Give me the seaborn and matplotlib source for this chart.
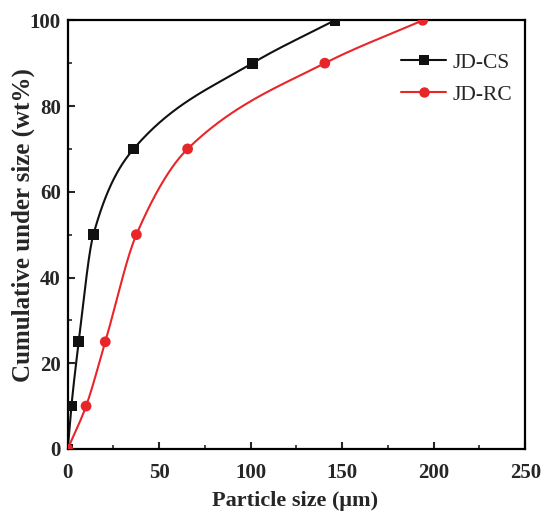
"""Cumulative particle size distribution for JD-CS and JD-RC."""

import numpy as np
import matplotlib
matplotlib.use("Agg")
import matplotlib.pyplot as plt
from matplotlib.lines import Line2D
from matplotlib.ticker import MultipleLocator
import seaborn as sns

# values
cs_size = [0, 2, 6, 14, 36, 101, 146]
cs_cum = [0, 10, 25, 50, 70, 90, 100]
rc_size = [0, 10, 20.5, 37.5, 65.5, 140.5, 194]
rc_cum = [0, 10, 25, 50, 70, 90, 100]

series_names = ["JD-CS", "JD-RC"]
series_colors = ["#111111", "#e8262a"]
series_markers = ["s", "o"]


def smooth_curve(x, y, n=60):
    """Monotone cubic (PCHIP) line through the measured points, drawing only."""
    x = np.asarray(x, float)
    y = np.asarray(y, float)
    h = np.diff(x)
    d = np.diff(y) / h
    m = np.zeros_like(x)
    for k in range(1, len(x) - 1):
        if d[k - 1] * d[k] > 0:
            w1 = 2 * h[k] + h[k - 1]
            w2 = h[k] + 2 * h[k - 1]
            m[k] = (w1 + w2) / (w1 / d[k - 1] + w2 / d[k])
    m[0] = d[0]
    m[-1] = d[-1]
    xs, ys = [], []
    for k in range(len(x) - 1):
        t = np.linspace(0, 1, n)
        h00 = 2 * t**3 - 3 * t**2 + 1
        h10 = t**3 - 2 * t**2 + t
        h01 = -2 * t**3 + 3 * t**2
        h11 = t**3 - t**2
        xs.append(x[k] + t * h[k])
        ys.append(h00 * y[k] + h10 * h[k] * m[k] + h01 * y[k + 1] + h11 * h[k] * m[k + 1])
    return np.concatenate(xs), np.concatenate(ys)


sns.set_theme(style="ticks")
plt.rcParams["font.family"] = ["Liberation Serif", "DejaVu Serif"]

fig = plt.figure(figsize=(5.42, 5.14), dpi=100)
ax = fig.add_axes([0.125, 0.1265, 0.844, 0.834])

data = [(cs_size, cs_cum), (rc_size, rc_cum)]
handles = []
for (xv, yv), name, col, mk in zip(data, series_names, series_colors, series_markers):
    sx, sy = smooth_curve(xv, yv)
    sns.lineplot(x=sx, y=sy, sort=False, estimator=None, color=col, lw=1.5, ax=ax)
    sns.scatterplot(x=xv, y=yv, marker=mk, color=col, s=60, edgecolor="none", ax=ax, zorder=3)
    handles.append(Line2D([], [], color=col, lw=1.5, marker=mk, markersize=7.5, markeredgewidth=0))

ax.set_xlim(0, 250)
ax.set_ylim(0, 100)
ax.xaxis.set_major_locator(MultipleLocator(50))
ax.xaxis.set_minor_locator(MultipleLocator(25))
ax.yaxis.set_major_locator(MultipleLocator(20))
ax.yaxis.set_minor_locator(MultipleLocator(10))
ax.tick_params(which="major", direction="in", length=5, width=1.5, labelsize=15, pad=5)
ax.tick_params(axis="x", which="major", pad=10)
ax.tick_params(which="minor", direction="in", length=3, width=1.2)
for lab in ax.get_xticklabels() + ax.get_yticklabels():
    lab.set_fontweight("bold")
for sp in ax.spines.values():
    sp.set_linewidth(1.6)
    sp.set_color("black")

ax.set_xlabel("Particle size (μm)", fontsize=16, fontweight="bold")
ax.set_ylabel("Cumulative under size (wt%)", fontsize=18, fontweight="bold")
ax.xaxis.set_label_coords(0.496, -0.098)
ax.yaxis.set_label_coords(-0.072, 0.522)

ax.legend(handles, series_names, loc="upper right", bbox_to_anchor=(1.015, 0.97),
          frameon=False, fontsize=15.5, handlelength=2.1, handletextpad=0.3,
          labelspacing=0.55)

fig.savefig("out.png", dpi=100)
